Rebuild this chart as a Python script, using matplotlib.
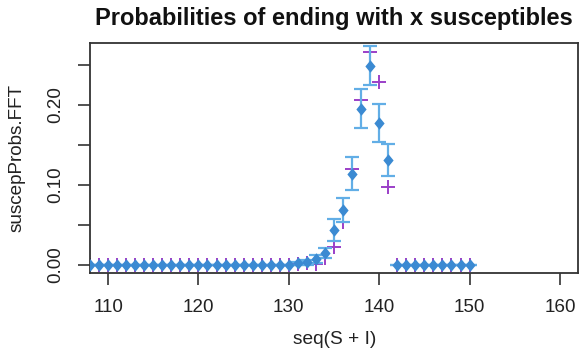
import matplotlib
matplotlib.use("Agg")
import matplotlib.pyplot as plt
from matplotlib.path import Path
import numpy as np

plt.rcParams['font.family'] = ['Liberation Sans', 'DejaVu Sans']

# ---- data ----
sizes = list(range(108, 151))  # seq(S + I) values shown
fft_probs = [0.0] * 23 + [0.002, 0.003, 0.007, 0.015, 0.0435, 0.068, 0.114,
                          0.195, 0.249, 0.1775, 0.1315] + [0.0] * 9
fft_err = [0.0] * 23 + [0.002, 0.003, 0.005, 0.0065, 0.0135, 0.015, 0.0205,
                        0.0245, 0.024, 0.0235, 0.02] + [0.0] * 9
sim_probs = [0.0] * 23 + [0.0005, 0.002, 0.0015, 0.0083, 0.022, 0.054, 0.1194,
                          0.206, 0.2665, 0.228, 0.097] + [0.0] * 9
xticks = [110, 120, 130, 140, 150, 160]
yticks = [0.00, 0.05, 0.10, 0.15, 0.20, 0.25]
ytick_labels = ["0.00", "", "0.10", "", "0.20", ""]

W, H = 581, 352
fig = plt.figure(figsize=(W / 100, H / 100), dpi=100)
left, right, top, bottom = 90, 578, 43.3, 273.3
ax = fig.add_axes([left / W, 1 - bottom / H, (right - left) / W, (bottom - top) / H])

diamond = Path([(0, 1), (0.82, 0), (0, -1), (-0.82, 0), (0, 1)],
               [Path.MOVETO, Path.LINETO, Path.LINETO, Path.LINETO, Path.CLOSEPOLY])

ax.plot(sizes, sim_probs, linestyle='none', marker='+', markersize=9.5,
        markeredgewidth=1.4, color='#9b3fc8', zorder=2)
ax.errorbar(sizes, fft_probs, yerr=fft_err, fmt='none', ecolor='#62aee6',
            elinewidth=1.6, capsize=4.8, capthick=1.6, zorder=3)
ax.plot(sizes, fft_probs, linestyle='none', marker=diamond, markersize=9,
        markeredgewidth=0, color='#3b8ad2', zorder=4)

ax.set_xlim(108, 162)
ax.set_ylim(-0.0107, 0.277)
ax.set_xticks(xticks)
ax.set_yticks(yticks)
ax.set_yticklabels(ytick_labels)
for lab in ax.get_yticklabels():
    lab.set_rotation(90)
    lab.set_va('center')

ax.tick_params(axis='both', direction='out', length=8.3, width=1.2,
               color='#333333', labelsize=13.6, labelcolor='#222222')
ax.tick_params(axis='x', pad=10.5)
ax.tick_params(axis='y', pad=10)
for s in ax.spines.values():
    s.set_color('#333333')
    s.set_linewidth(1.3)

ax.set_title("Probabilities of ending with x susceptibles", fontsize=17,
             fontweight='bold', pad=13, color='#111111')
ax.set_xlabel("seq(S + I)", fontsize=13.8, color='#222222')
ax.set_ylabel("suscepProbs.FFT", fontsize=13.6, color='#222222')
ax.xaxis.set_label_coords((335 - left) / (right - left), -(331 - bottom) / (bottom - top))
ax.yaxis.set_label_coords(-(left - 26) / (right - left), 0.5)

fig.savefig("out.png", dpi=100)
